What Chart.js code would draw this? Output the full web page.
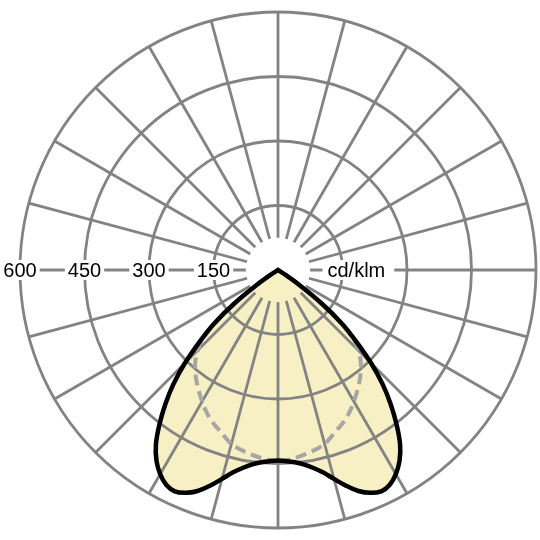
<!DOCTYPE html>
<html>
<head>
<meta charset="utf-8">
<script src="https://cdn.jsdelivr.net/npm/chart.js@4.4.1/dist/chart.umd.min.js"></script>
<style>
  html, body { margin: 0; padding: 0; background: #fff; }
  #wrap { width: 540px; height: 540px; }
</style>
</head>
<body>
<div id="wrap"><canvas id="ldc"></canvas></div>
<script>
// gamma angles (deg from nadir), one half of the diagram
const gamma = [
    0, 2.5, 5, 7.5, 10, 12.5, 15, 17.5, 20, 22.5, 25, 27.5, 30, 32.5, 35, 37.5,
    40, 42.5, 45, 47.5, 50, 52.5, 55, 57.5, 60, 62.5, 65, 67.5, 70, 72.5, 75, 77.5,
    80, 82.5, 85, 87.5, 90, 92.5, 95, 97.5, 100, 102.5, 105, 107.5, 110, 112.5, 115, 117.5,
    120, 122.5, 125, 127.5, 130, 132.5, 135, 137.5, 140, 142.5, 145, 147.5, 150, 152.5, 155, 157.5,
    160, 162.5, 165, 167.5, 170, 172.5, 175, 177.5, 180
];
// C0 - C180 plane (solid), cd/klm
const planeC0 = [
    443, 445, 449, 456, 467, 482, 503, 526, 547, 561, 568, 563, 548, 526, 495, 453,
    408, 360, 306, 248, 195, 128, 58, 14, 0, 0, 0, 0, 0, 0, 0, 0,
    0, 0, 0, 0, 0, 0, 0, 0, 0, 0, 0, 0, 0, 0, 0, 0,
    0, 0, 0, 0, 0, 0, 0, 0, 0, 0, 0, 0, 0, 0, 0, 0,
    0, 0, 0, 0, 0, 0, 0, 0, 0
];
// C90 - C270 plane (dashed), cd/klm
const planeC90 = [
    443, 442, 439, 435, 430, 425, 419, 408, 397, 388, 378, 366, 353, 340, 327, 314,
    300, 284, 263, 238, 190, 124, 55, 13, 0, 0, 0, 0, 0, 0, 0, 0,
    0, 0, 0, 0, 0, 0, 0, 0, 0, 0, 0, 0, 0, 0, 0, 0,
    0, 0, 0, 0, 0, 0, 0, 0, 0, 0, 0, 0, 0, 0, 0, 0,
    0, 0, 0, 0, 0, 0, 0, 0, 0
];
const ringTicks = [600, 450, 300, 150];
const unitLabel = "cd/klm";

// mirror the half-plane round the full circle
const half = gamma.length - 1;
const mirror = (arr) => {
    const out = [];
    for (let i = 0; i < half * 2; i++) out.push(arr[i <= half ? i : half * 2 - i]);
    return out;
};
const fullLabels = mirror(gamma).map(String);
const fullC0 = mirror(planeC0);
const fullC90 = mirror(planeC90);

const gridColor = "#838383";
const fontSpec = '20px "Liberation Sans", Arial, sans-serif';

// grid goes over the yellow fill but under the curves, with an empty hub in the middle
const gridOverFill = {
    id: "gridOverFill",
    afterDatasetDraw(chart, args) {
        if (args.index !== 2) return;
        const r = chart.scales.r;
        const ctx = chart.ctx;
        const cx = r.xCenter, cy = r.yCenter;
        const hole = r.getDistanceFromCenterForValue(75);

        ctx.save();
        ctx.beginPath();
        ctx.rect(0, 0, chart.width, chart.height);
        ctx.arc(cx, cy, hole, 0, Math.PI * 2);
        ctx.clip("evenodd");
        r.drawGrid();
        ctx.restore();

        ctx.save();
        ctx.font = fontSpec;
        ctx.textBaseline = "alphabetic";
        ctx.textAlign = "left";
        ringTicks.forEach((v) => {
            const txt = String(v);
            const w = ctx.measureText(txt).width;
            const x = cx - r.getDistanceFromCenterForValue(v);
            ctx.fillStyle = "#fff";
            ctx.fillRect(x - w / 2 - 3, cy - 10, w + 6, 20);
            ctx.fillStyle = "#000";
            ctx.fillText(txt, x - w / 2, cy + 7);
        });
        const ux = cx + r.getDistanceFromCenterForValue(115);
        const uw = ctx.measureText(unitLabel).width;
        ctx.fillStyle = "#fff";
        ctx.fillRect(ux - 5, cy - 10, uw + 14, 20);
        ctx.fillStyle = "#000";
        ctx.fillText(unitLabel, ux, cy + 7);
        ctx.restore();
    }
};

new Chart(document.getElementById("ldc"), {
    type: "radar",
    data: {
        labels: fullLabels,
        datasets: [
            {
                label: "C0 - C180",
                data: fullC0,
                borderColor: "#000",
                borderWidth: 4.5,
                fill: false,
                pointRadius: 0,
                tension: 0.35,
            },
            {
                label: "C90 - C270",
                data: fullC90,
                borderColor: "#a6a6a6",
                borderWidth: 4,
                borderDash: [11, 6],
                fill: false,
                pointRadius: 0,
                tension: 0.35,
            },
            {
                label: "area",
                data: fullC0,
                borderColor: "transparent",
                borderWidth: 0,
                backgroundColor: "#f6f0c4",
                fill: "origin",
                pointRadius: 0,
                tension: 0.35,
            },
        ],
    },
    options: {
        responsive: true,
        maintainAspectRatio: false,
        animation: false,
        events: [],
        layout: { padding: { left: 20, right: 4, top: 12, bottom: 12 } },
        plugins: { legend: { display: false }, tooltip: { enabled: false } },
        scales: {
            r: {
                display: false,
                min: 0,
                max: 600,
                startAngle: 180,
                ticks: { stepSize: 150, display: false },
                pointLabels: { display: false },
                grid: { circular: true, color: gridColor, lineWidth: 2.8 },
                angleLines: {
                    color: gridColor,
                    lineWidth: (c) => (c.index % 6 === 0 ? 2.8 : 0),
                },
            },
        },
    },
    plugins: [gridOverFill],
});
</script>
</body>
</html>
